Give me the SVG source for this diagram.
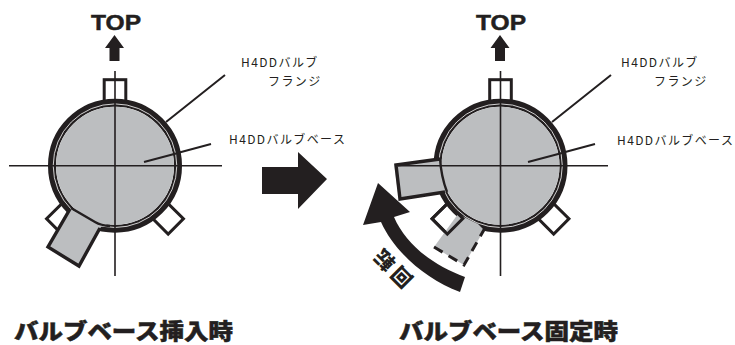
<svg xmlns="http://www.w3.org/2000/svg" width="735" height="345" viewBox="0 0 735 345">
<style>
text{font-family:"Noto Sans CJK JP","Liberation Sans",sans-serif;fill:#231f20}
.lab{font-size:12px;letter-spacing:1.4px}
.ttl{font-size:22px;font-weight:900;stroke:#231f20;stroke-width:.5px}
.top{font-family:"Liberation Sans",sans-serif;font-size:22px;font-weight:700;stroke:#231f20;stroke-width:.5px}
.ln{stroke:#231f20;stroke-width:1.6;fill:none}
.ld{stroke:#231f20;stroke-width:2;fill:none}
.w{fill:#fff;stroke:#231f20;stroke-width:3}
.blk{fill:#231f20}
</style>
<defs>
<g id="tabs">
<rect class="w" x="-10.800" y="-86" width="21.600" height="22"/>
<rect class="w" x="-10.800" y="-86" width="21.600" height="22" transform="rotate(135)"/>
</g>
<g id="ring">
<circle r="63" fill="none" stroke="#231f20" stroke-width="8"/>
<circle r="61.800" fill="none" stroke="#fff" stroke-width=".8"/>
<circle r="59" fill="#bcbec0"/>
</g>
<path id="up" class="blk" d="M0 0L9.500 13H5V26H-5V13H-9.500Z"/>
</defs>
<g id="connectors">
<path class="ld" d="M166 122L225 75M144 162L211 144"/>
<path class="ld" d="M552 122L611 75M528 162L595 144"/>
</g>
<g id="node-left">
<rect class="w" x="-10.800" y="-86" width="21.600" height="22" transform="translate(115 165.700) rotate(-135)"/>
<use href="#tabs" x="115" y="165.700"/>
<use href="#ring" x="115" y="165.700"/>
<path fill="#bcbec0" d="M70 209L48 247L79 266L101 227L108 224L95 220Z"/>
<path fill="none" stroke="#231f20" stroke-width="3.400" d="M70 209L48 247L79 266L100 228"/>
<path fill="none" stroke="#231f20" stroke-width="2.400" d="M71 208L95 222Q101 225.500 110 226"/>
<path class="ln" d="M115 71V276M9 165.700H222"/>
<path class="ld" d="M144 162L178 153"/>
<text class="lab" x="241" y="67">H4DDバルブ</text>
<text class="lab" x="268" y="86">フランジ</text>
<text class="lab" x="229" y="144">H4DDバルブベース</text>
<text class="top" x="91" y="30" textLength="50" lengthAdjust="spacingAndGlyphs">TOP</text>
<use href="#up" x="114.500" y="35"/>
</g>
<g id="arrow-main"><path class="blk" d="M262 167H298V152L327 179L298 209V194H262Z"/></g>
<g id="node-right">
<rect class="w" x="-10.800" y="-86" width="21.600" height="22" transform="translate(500.500 165.700) rotate(-135)"/>
<use href="#tabs" x="500.500" y="165.700"/>
<use href="#ring" x="500.500" y="165.700"/>
<path fill="#bcbec0" d="M434 247L464 265L484 230L478 224L458 214Z"/>
<path fill="none" stroke="#231f20" stroke-width="3" stroke-dasharray="10 7" d="M434 247L464 265L485 228"/>
<rect fill="none" stroke="#231f20" stroke-width="3" x="-10.800" y="-86" width="21.600" height="22" transform="translate(500.500 165.700) rotate(-135)"/>
<path fill="#bcbec0" d="M439 159L394 164L399 200L446 192L450 175Z"/>
<path fill="none" stroke="#231f20" stroke-width="3.400" d="M440 159L396 165L400 199L445 192"/>
<path fill="none" stroke="#231f20" stroke-width="2.400" d="M440 158Q441 176 447 192"/>
<path class="ln" d="M500.500 71V276M395 165.700H608"/>
<path class="ld" d="M528 162L562 153"/>
<path class="blk" d="M378 183L363 225L381 222C394 251 425 279 460 292L465 277C433 265 406 245 394 217L410 212Z"/>
<text font-size="20" font-weight="900" letter-spacing="4" text-anchor="middle" transform="translate(392 267) rotate(225)" y="7">回転</text>
<text class="lab" x="621" y="67">H4DDバルブ</text>
<text class="lab" x="654" y="86">フランジ</text>
<text class="lab" x="617" y="145">H4DDバルブベース</text>
<text class="top" x="476" y="30" textLength="50" lengthAdjust="spacingAndGlyphs">TOP</text>
<use href="#up" x="500" y="35"/>
</g>
<g id="titles">
<text class="ttl" x="14" y="338.500" textLength="219" lengthAdjust="spacingAndGlyphs">バルブベース挿入時</text>
<text class="ttl" x="399" y="338.500" textLength="219" lengthAdjust="spacingAndGlyphs">バルブベース固定時</text>
</g>
</svg>
